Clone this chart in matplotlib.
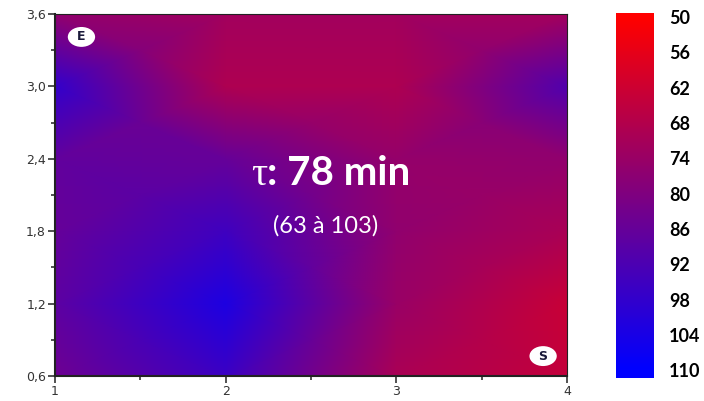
import numpy as np
import matplotlib
matplotlib.use("Agg")
import matplotlib.pyplot as plt
from matplotlib.colors import LinearSegmentedColormap
from matplotlib.patches import Ellipse

# measurement grid (x positions, depth levels) and residence time values
x_pos = [1, 2, 3, 4]
y_pos = [0.6, 1.2, 1.8, 2.4, 3.0, 3.6]
tau = [
    [84, 96, 70, 64],   # y = 0.6
    [88, 103, 74, 63],  # y = 1.2
    [86, 95, 76, 70],   # y = 1.8
    [87, 86, 75, 76],   # y = 2.4
    [98, 69, 69, 91],   # y = 3.0
    [76, 72, 72, 72],   # y = 3.6
]
cbar_ticks = [50, 56, 62, 68, 74, 80, 86, 92, 98, 104, 110]
x_ticks = [1, 2, 3, 4]
y_ticks = [0.6, 1.2, 1.8, 2.4, 3.0, 3.6]
y_ticklabels = ["0,6", "1,2", "1,8", "2,4", "3,0", "3,6"]

cmap = LinearSegmentedColormap.from_list("rb", ["#ff0000", "#0000ff"])
vmin, vmax = 50, 110

fig = plt.figure(figsize=(7.04, 4.01), dpi=100)
W, H = 704, 401
ax = fig.add_axes([55 / W, 1 - 376 / H, (567 - 55) / W, (376 - 14) / H])

X, Y = np.meshgrid(x_pos, y_pos)
ax.pcolormesh(X, Y, np.array(tau, dtype=float), shading="gouraud",
              cmap=cmap, vmin=vmin, vmax=vmax)
ax.set_xlim(1, 4)
ax.set_ylim(0.6, 3.6)

ax.set_xticks(x_ticks)
ax.set_xticks([1.5, 2.5, 3.5], minor=True)
ax.set_yticks(y_ticks)
ax.set_yticklabels(y_ticklabels)
ax.set_yticks([0.9, 1.5, 2.1, 2.7, 3.3], minor=True)
ax.tick_params(which="major", direction="out", length=5, width=1.2,
               labelsize=9, colors="#333333", pad=1.5)
ax.tick_params(which="minor", direction="out", length=3, width=1.2,
               colors="#333333")
for lab in ax.get_xticklabels() + ax.get_yticklabels():
    lab.set_family("DejaVu Sans")
for s in ax.spines.values():
    s.set_color("#222222")
ax.spines["left"].set_linewidth(1.5)
ax.spines["bottom"].set_linewidth(1.5)
ax.spines["top"].set_linewidth(0.8)
ax.spines["right"].set_linewidth(0.8)

# E / S markers
for lab, (mx, my) in {"E": (1.155, 3.41), "S": (3.86, 0.765)}.items():
    ax.add_patch(Ellipse((mx, my), 0.16, 0.165, facecolor="white",
                         edgecolor="none", zorder=3))
    ax.text(mx, my, lab, ha="center", va="center", fontsize=9,
            fontweight="bold", color="#1a1a3a", family="DejaVu Sans",
            zorder=4)

# centre annotation
ax.text(2.245, 2.183, "τ", ha="right", va="baseline", fontsize=29,
        color="white", family="Liberation Serif")
ax.text(2.245, 2.183, ": 78 min", ha="left", va="baseline", fontsize=29,
        color="white", family="Lato", fontweight="bold")
ax.text(2.585, 1.843, "(63 à 103)", ha="center", va="center", fontsize=17,
        color="white", family="Lato")

# colour bar
cax = fig.add_axes([616 / W, 1 - 378 / H, 38 / W, 365 / H])
lo, hi = 49.3, 111.3
grad = np.linspace(lo, hi, 256).reshape(-1, 1)
cax.imshow(grad, cmap=cmap, vmin=vmin, vmax=vmax, aspect="auto",
           extent=[0, 1, hi, lo], origin="upper")
cax.set_ylim(hi, lo)
cax.set_xlim(0, 1)
cax.set_xticks([])
cax.yaxis.tick_right()
cax.set_yticks(cbar_ticks)
cax.set_yticklabels([str(t) for t in cbar_ticks])
cax.tick_params(axis="y", length=0, pad=11, labelsize=13)
for lab in cax.get_yticklabels():
    lab.set_family("Lato")
    lab.set_fontweight("bold")
for s in cax.spines.values():
    s.set_visible(False)

fig.savefig("out.png", dpi=100)
